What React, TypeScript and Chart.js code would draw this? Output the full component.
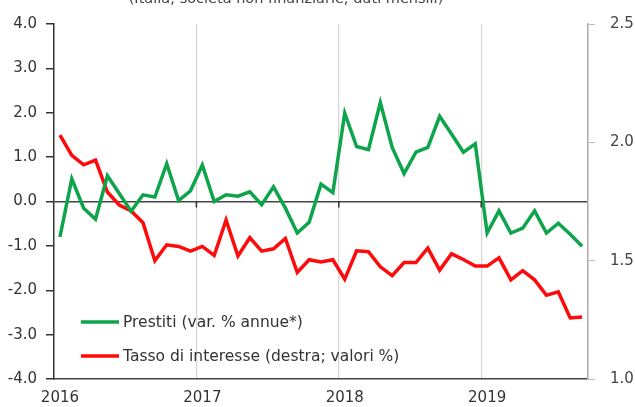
import React, { useEffect, useRef } from "react";
import { Chart, registerables } from "chart.js";

Chart.register(...registerables);

const months: string[] = [
  "2016-01","2016-02","2016-03","2016-04","2016-05","2016-06","2016-07","2016-08","2016-09","2016-10","2016-11","2016-12",
  "2017-01","2017-02","2017-03","2017-04","2017-05","2017-06","2017-07","2017-08","2017-09","2017-10","2017-11","2017-12",
  "2018-01","2018-02","2018-03","2018-04","2018-05","2018-06","2018-07","2018-08","2018-09","2018-10","2018-11","2018-12",
  "2019-01","2019-02","2019-03","2019-04","2019-05","2019-06","2019-07","2019-08","2019-09",
];

const prestiti: number[] = [
  -0.80, 0.51, -0.15, -0.40, 0.58, 0.18, -0.22, 0.15, 0.10, 0.85, 0.02, 0.24,
  0.82, 0.00, 0.15, 0.12, 0.22, -0.07, 0.33, -0.15, -0.71, -0.47, 0.39, 0.20,
  1.99, 1.24, 1.17, 2.23, 1.22, 0.63, 1.11, 1.22, 1.92, 1.52, 1.11, 1.30,
  -0.71, -0.21, -0.71, -0.60, -0.21, -0.71, -0.49, -0.74, -1.01,
];

const tasso: number[] = [
  2.03, 1.945, 1.905, 1.925, 1.79, 1.735, 1.71, 1.66, 1.50, 1.567, 1.56, 1.54,
  1.56, 1.522, 1.672, 1.52, 1.597, 1.54, 1.55, 1.594, 1.45, 1.504, 1.495, 1.504,
  1.422, 1.542, 1.538, 1.474, 1.437, 1.492, 1.492, 1.553, 1.46, 1.529, 1.505, 1.477,
  1.477, 1.512, 1.419, 1.458, 1.419, 1.354, 1.368, 1.258, 1.262,
];

const seriesLabels = ["Prestiti (var. % annue*)", "Tasso di interesse (destra; valori %)"];
const titleText = "(Italia; società non finanziarie; dati mensili)";

const GREEN = "#0ea44b";
const RED = "#ff0a0a";
const FONT = "'DejaVu Sans', sans-serif";

const overlayPlugin = {
  id: "overlay",
  afterDraw(chart: any) {
    const ctx = chart.ctx;
    const x = chart.scales.x;
    const y = chart.scales.y;
    const area = chart.chartArea;
    ctx.save();
    // cut-off title
    ctx.fillStyle = "#444";
    ctx.font = `14.5px ${FONT}`;
    ctx.textAlign = "center";
    ctx.textBaseline = "alphabetic";
    ctx.fillText(titleText, 286, 3);
    // small tick marks on zero line at year boundaries
    const y0 = y.getPixelForValue(0);
    ctx.strokeStyle = "#333";
    ctx.lineWidth = 1.5;
    months.forEach((m, i) => {
      if (i > 0 && i % 12 === 0) {
        const px = (x.getPixelForValue(i) + x.getPixelForValue(i - 1)) / 2;
        ctx.beginPath();
        ctx.moveTo(px, y0);
        ctx.lineTo(px, y0 + 6);
        ctx.stroke();
      }
    });
    // legend
    const items = chart.data.datasets;
    const ys = [322, 356];
    items.forEach((ds: any, k: number) => {
      const ly = ys[k];
      ctx.strokeStyle = ds.borderColor;
      ctx.lineWidth = 3.5;
      ctx.beginPath();
      ctx.moveTo(area.left + 27, ly);
      ctx.lineTo(area.left + 65, ly);
      ctx.stroke();
      ctx.fillStyle = "#333";
      ctx.font = `15.5px ${FONT}`;
      ctx.textAlign = "left";
      ctx.textBaseline = "middle";
      ctx.fillText(ds.label, area.left + 69, ly + 1);
    });
    ctx.restore();
  },
};

export default function App() {
  const ref = useRef<HTMLCanvasElement | null>(null);
  useEffect(() => {
    if (!ref.current) return;
    const chart = new Chart(ref.current, {
      type: "line",
      data: {
        labels: months,
        datasets: [
          {
            label: seriesLabels[0],
            data: prestiti,
            borderColor: GREEN,
            backgroundColor: GREEN,
            borderWidth: 3.5,
            pointRadius: 0,
            tension: 0,
            yAxisID: "y",
          },
          {
            label: seriesLabels[1],
            data: tasso,
            borderColor: RED,
            backgroundColor: RED,
            borderWidth: 3.5,
            pointRadius: 0,
            tension: 0,
            yAxisID: "y1",
          },
        ],
      },
      options: {
        animation: false,
        responsive: false,
        devicePixelRatio: 1,
        layout: { padding: { top: 13, left: 0, right: 0, bottom: 0 } },
        plugins: {
          legend: { display: false },
          title: { display: false },
          tooltip: { enabled: false },
        },
        scales: {
          x: {
            type: "category",
            offset: true,
            afterFit: (s: any) => { s.height = 28; },
            border: { color: "#444", width: 1.5 },
            grid: {
              offset: true,
              color: (c: any) => (c.index > 0 && c.index % 12 === 0 ? "#d4d4d4" : "transparent"),
              lineWidth: 1.2,
              tickLength: 0,
            },
            ticks: {
              autoSkip: false,
              maxRotation: 0,
              minRotation: 0,
              padding: 10,
              color: "#333",
              font: { family: FONT, size: 15 },
              callback: (_v: any, i: number) => (i % 12 === 0 ? months[i].slice(0, 4) : ""),
            },
          },
          y: {
            position: "left",
            min: -4,
            max: 4,
            afterFit: (s: any) => { s.width = 54; },
            border: { color: "#333", width: 1.5 },
            grid: {
              color: (c: any) => (c.tick && c.tick.value === 0 ? "#444" : "transparent"),
              lineWidth: 1.5,
              tickColor: "#333",
              tickLength: 8,
            },
            ticks: {
              stepSize: 1,
              padding: 9,
              color: "#333",
              font: { family: FONT, size: 15 },
              callback: (v: any) => Number(v).toFixed(1),
            },
          },
          y1: {
            position: "right",
            min: 1,
            max: 2.5,
            afterFit: (s: any) => { s.width = 47; },
            border: { color: "#aaa", width: 1.5 },
            grid: {
              drawOnChartArea: false,
              tickColor: "#bbb",
              tickLength: 7,
            },
            ticks: {
              stepSize: 0.5,
              padding: 15,
              color: "#444",
              font: { family: FONT, size: 15 },
              callback: (v: any) => Number(v).toFixed(1),
            },
          },
        },
      },
      plugins: [overlayPlugin],
    });
    return () => chart.destroy();
  }, []);
  return (
    <div style={{ position: "fixed", left: 0, top: 0, width: 635, height: 407, background: "#fff" }}>
      <canvas ref={ref} width={635} height={407} />
    </div>
  );
}
